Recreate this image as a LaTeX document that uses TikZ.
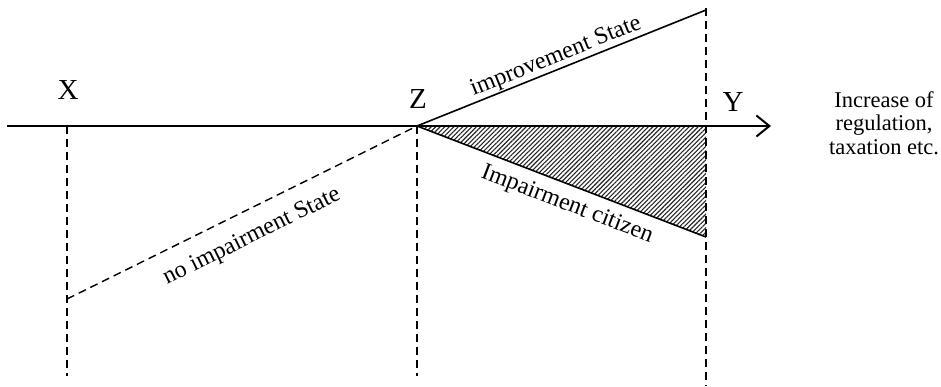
\documentclass[tikz,border=0pt]{standalone}
\usepackage{fontspec}
\setmainfont{Liberation Serif}
\usetikzlibrary{arrows.meta,patterns.meta}
\begin{document}
\begin{tikzpicture}[x=1pt,y=-1pt,
  axisline/.style={line width=2.2pt},
  solidline/.style={line width=1.6pt},
  dashline/.style={line width=1.4pt,dash pattern=on 8pt off 5pt},
  letter/.style={font=\fontsize{29}{31}\selectfont,inner sep=0pt},
  linelabel/.style={font=\fontsize{24}{26}\selectfont,inner sep=0pt},
  sidetext/.style={font=\fontsize{22.5}{23.5}\selectfont,align=center,inner sep=0pt}]
\useasboundingbox (0,0) rectangle (941,386);
\fill[white] (0,0) rectangle (941,386);
% coordinates
\coordinate (Astart) at (7,126);
\coordinate (Aend) at (771,126);
\coordinate (Xa) at (67,126);
\coordinate (Xb) at (67,376);
\coordinate (Xm) at (67,299);
\coordinate (Za) at (417,126);
\coordinate (Zb) at (417,376);
\coordinate (Ytop) at (706,8);
\coordinate (Yup) at (706,10);
\coordinate (Yax) at (706,126);
\coordinate (Ydown) at (706,237);
\coordinate (Yb) at (706,386);
% hatched triangle
\fill[pattern={Lines[angle=45,distance=3.2pt,line width=1.1pt]},pattern color=black!85] (Za) -- (Yax) -- (Ydown) -- cycle;
% dashed verticals
\draw[dashline] (Xa) -- (Xb);
\draw[dashline] (Za) -- (Zb);
\draw[dashline] (Ytop) -- (Yb);
% no impairment
\draw[dashline] (Xm) -- (Za);
% lines from Z
\draw[solidline] (Za) -- (Yup);
\draw[solidline] (Za) -- (Ydown);
% axis
\draw[axisline,-{Straight Barb[length=13pt,width=21pt,line width=2pt]}] (Astart) -- (Aend);
% labels
\node[letter] (X) at (68,90) {X};
\node[letter] (Z) at (418,99) {Z};
\node[letter] (Y) at (733,102) {Y};
\node[linelabel,rotate=21.9] (imp) at (556,57) {improvement State};
\node[linelabel,rotate=-21] (cit) at (567,205) {Impairment citizen};
\node[linelabel,rotate=26.3] (noimp) at (252,237) {no impairment State};
\node[sidetext] (side) at (884,123) {Increase of\\regulation,\\taxation etc.};
\end{tikzpicture}
\end{document}
